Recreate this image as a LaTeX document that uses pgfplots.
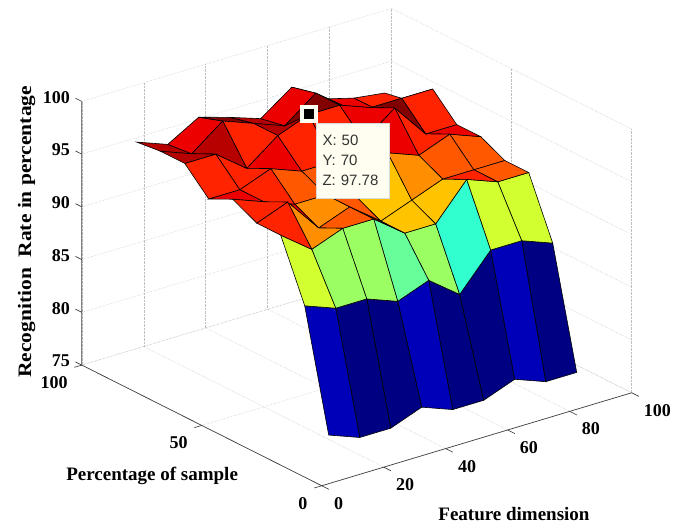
\documentclass[border=0pt]{standalone}
\usepackage{fontspec}
\setmainfont{Liberation Serif}
\newfontfamily\tipfont{Liberation Sans}
\usepackage{pgfplots}
\usepackage{pgfplotstable}
\pgfplotsset{compat=1.18}

\pgfplotstableread{
X Y Z
10 10 77.78
20 10 76.67
30 10 76.67
40 10 77.78
50 10 76.67
60 10 76.67
70 10 77.78
80 10 76.67
90 10 76.67

10 20 88.89
20 20 87.78
30 20 87.78
40 20 86.67
50 20 87.78
60 20 85.56
70 20 88.89
80 20 88.89
90 20 87.78

10 30 94.44
20 30 92.22
30 30 93.33
40 30 93.33
50 30 91.11
60 30 91.11
70 30 94.44
80 30 93.33
90 30 93.33

10 40 94.44
20 40 95.56
30 40 92.22
40 40 93.33
50 40 91.11
60 40 92.22
70 40 93.33
80 40 93.33
90 40 93.33

10 50 95.56
20 50 94.44
30 50 93.33
40 50 93.33
50 50 92.22
60 50 95.56
70 50 94.44
80 50 95.56
90 50 94.44

10 60 94.44
20 60 94.44
30 60 95.56
40 60 94.44
50 60 94.44
60 60 95.56
70 60 97.78
80 60 94.44
90 60 94.44

10 70 96.67
20 70 96.67
30 70 94.44
40 70 96.67
50 70 97.78
60 70 97.78
70 70 96.67
80 70 96.67
90 70 96.67

10 80 96.67
20 80 95.56
30 80 97.78
40 80 96.67
50 80 95.56
60 80 97.78
70 80 95.56
80 80 94.44
90 80 94.44

10 90 96.4
20 90 95.3
30 90 97.0
40 90 96.1
50 90 95.1
60 90 97.2
70 90 95.2
80 90 94.4
90 90 94.0
}\recog

\begin{document}
\begin{tikzpicture}
\begin{axis}[
    x={(3.10pt,0.93pt)},
    y={(-2.40pt,1.207pt)},
    z={(0pt,10.55pt)},
    xmin=0, xmax=100,
    ymin=0, ymax=100,
    zmin=75, zmax=100,
    xtick={0,20,...,100},
    ytick={0,50,100},
    ztick={75,80,...,100},
    clip=false,
    grid=major,
    grid style={densely dotted, black!25, line width=0.5pt},
    axis line style={draw=none},
    tick pos=left,
    tick align=outside,
    major tick length=7pt,
    tick style={draw=none},
    tick label style={font=\fontsize{18}{18}\selectfont\bfseries},
    /pgf/number format/assume math mode=true,
    xticklabel style={anchor=west, xshift=2.5pt, yshift=-14.5pt},
    yticklabel style={anchor=east, xshift=-4pt, yshift=-15.5pt},
    zticklabel style={anchor=east, xshift=-2pt, yshift=1pt},
    xlabel={Feature dimension},
    ylabel={Percentage of sample},
    zlabel={\scalebox{1.13}[1]{Recognition\ \ Rate in percentage}},
    label style={font=\fontsize{19}{19}\selectfont\bfseries},
    xlabel style={at={(axis cs:27.5,-44.6,75)}, anchor=center, rotate=0, sloped=false},
    ylabel style={at={(axis cs:-30.4,31.4,75)}, anchor=center, rotate=0, sloped=false},
    zlabel style={at={(axis cs:0,123,85)}, anchor=center, rotate=0},
    colormap={matjet}{rgb255=(0,0,128) rgb255=(0,0,255) rgb255=(0,128,255) rgb255=(0,255,255) rgb255=(128,255,128) rgb255=(255,255,0) rgb255=(255,128,0) rgb255=(255,0,0) rgb255=(128,0,0)},
    point meta min=76.6,
    point meta max=97.8,
]
% axis lines and ticks by hand, matlab style
\draw[black!75, line width=0.7pt] (axis cs:0,0,75) -- (axis cs:100,0,75);
\draw[black!75, line width=0.7pt] (axis cs:0,0,75) -- (axis cs:0,100,75) -- (axis cs:0,100,100);
\pgfplotsinvokeforeach{75,80,85,90,95,100}{
    \draw[black!80, line width=0.6pt] (axis cs:0,100,#1) -- (axis cs:0,102.6,#1);
}
\pgfplotsinvokeforeach{0,20,40,60,80,100}{
    \draw[black!80, line width=0.6pt] (axis cs:#1,0,75) -- (axis cs:#1,-3,75);
}
\pgfplotsinvokeforeach{0,50,100}{
    \draw[black!80, line width=0.6pt] (axis cs:0,#1,75) -- (axis cs:-2.4,#1,75);
}
\addplot3[surf, shader=flat corner, draw=black, line width=0.6pt, z buffer=sort] table[x=X, y=Y, z=Z] {\recog};
\addplot3[only marks, mark=square*, mark size=7pt, mark options={fill=black, draw=white!95!yellow, line width=4pt}] coordinates {(50,70,97.78)};
\node[fill=white!94!yellow, draw=black!15, minimum width=73pt, minimum height=75.6pt, text width=60pt, align=left, xshift=43.8pt, yshift=-46.1pt, font=\tipfont\fontsize{15}{20}\selectfont, text=black!80]
    at (axis cs:50,70,97.78) {X: 50\\Y: 70\\Z: 97.78};
\coordinate (tl) at (axis cs:-103.8,0,130.2);
\coordinate (br) at (axis cs:117.2,0,61.04);
\end{axis}
\pgfresetboundingbox
\useasboundingbox (tl) rectangle (br);
\end{tikzpicture}
\end{document}
